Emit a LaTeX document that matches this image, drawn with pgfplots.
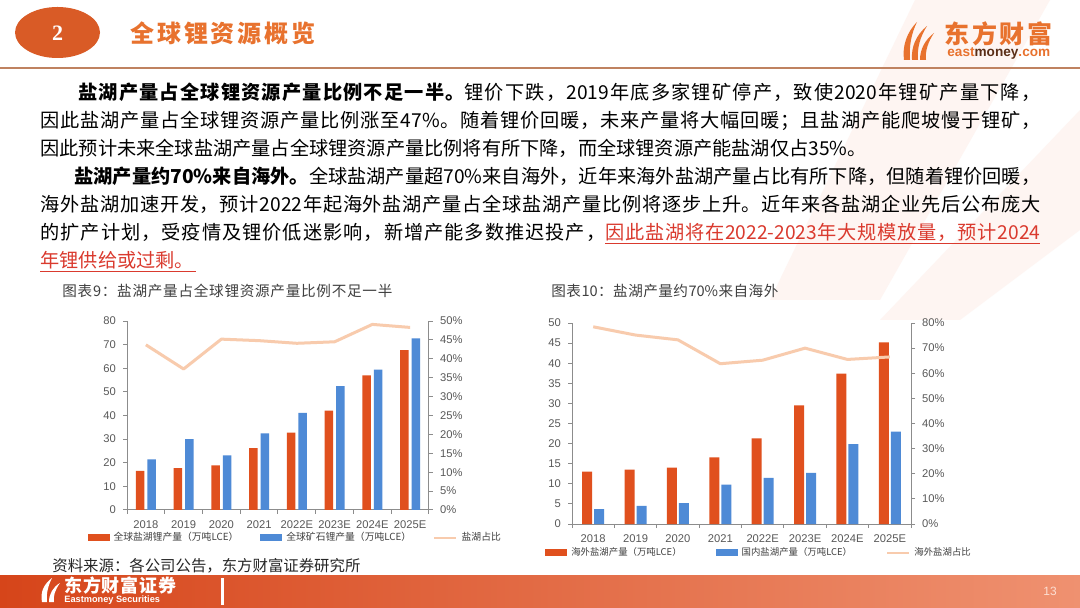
\documentclass[border=0pt]{standalone}
\usepackage{pgfplots}
\pgfplotsset{compat=1.18}
\usepackage{fontspec}
\setmainfont{Noto Sans CJK SC}
\newfontfamily\arial{Liberation Sans}
\newfontfamily\tnr{Liberation Serif}

\definecolor{barred}{HTML}{E0501E}
\definecolor{barblue}{HTML}{4E8AD6}
\definecolor{peach}{HTML}{F8CBAD}
\definecolor{emorange}{HTML}{E8722E}
\definecolor{emdark}{HTML}{D95B26}
\definecolor{rulec}{HTML}{BF8260}
\definecolor{redtxt}{HTML}{DA3A2E}
\definecolor{axgray}{HTML}{8C8C8C}
\definecolor{tickgray}{HTML}{595959}
\definecolor{legtext}{HTML}{404040}
\definecolor{wmark}{HTML}{FEF5F2}
\definecolor{emmoney}{HTML}{5A2E16}

% stretchable glue between CJK characters, so that single lines can be justified
\newXeTeXintercharclass\cjkc
\makeatletter
\count@="3000
\loop\ifnum\count@<"A000 \XeTeXcharclass\count@=\cjkc \advance\count@\@ne\repeat
\count@="FF00
\loop\ifnum\count@<"FFF0 \XeTeXcharclass\count@=\cjkc \advance\count@\@ne\repeat
\makeatother
\XeTeXinterchartoks\cjkc\cjkc={\hskip0pt plus 1pt minus 0.4pt\relax}
\XeTeXinterchartoks 0 \cjkc={\hskip0pt plus 1pt minus 0.4pt\relax}
\XeTeXinterchartoks\cjkc 0 ={\hskip0pt plus 1pt minus 0.4pt\relax}
\newcommand\jbox[2]{\hbox to #1{\XeTeXinterchartokenstate=1\relax#2}}

\begin{document}
\begin{tikzpicture}[x=0.5pt,y=-0.5pt]
\useasboundingbox (0,0) rectangle (1080,608);
\fill[white] (0,0) rectangle (1080,608);

% faint watermark band
\fill[wmark] (915,0) -- (1050,0) -- (880,300) -- (770,300) -- cycle;
\fill[wmark] (1080,110) -- (1080,230) -- (960,320) -- (880,320) -- cycle;

% header
\fill[emdark] (57.5,32.5) ellipse [x radius=21.25pt, y radius=12.75pt];
\node[white,font=\tnr\bfseries\fontsize{11}{11}\selectfont] at (57.5,33) {2};
\node[anchor=west,inner sep=0pt,text=emorange,font=\bfseries\fontsize{12}{12}\selectfont] at (130,33) {\jbox{92.5pt}{全球锂资源概览}};
\draw[rulec,line width=0.8pt] (0,68) -- (1080,68);

% logo
\fill[emorange] (904,60) .. controls (902,46) and (907,32) .. (917,22) .. controls (911,34) and (909,47) .. (910,60) -- cycle;
\fill[emorange] (912,60) .. controls (911,47) and (916,35) .. (927,26) .. controls (920,37) and (917,48) .. (918,60) -- cycle;
\fill[emorange] (920,60) .. controls (920,49) and (925,40) .. (934,33) .. controls (928,42) and (925,51) .. (926,60) -- cycle;
\node[anchor=west,inner sep=0pt,text=emorange,font=\bfseries\fontsize{12.5}{12.5}\selectfont] at (944,34) {\jbox{54pt}{东方财富}};
\node[anchor=west,inner sep=0pt,font=\arial\bfseries\fontsize{6.8}{7}\selectfont] at (947,53) {\textcolor{emorange}{east}\textcolor{emmoney}{money}\textcolor{emorange}{.com}};

% body text
\begin{scope}[every node/.style={anchor=base west,inner sep=0pt,font=\fontsize{9.6}{11}\selectfont}]
\node at (78,99.5) {\jbox{481pt}{{\bfseries 盐湖产量占全球锂资源产量比例不足一半。}锂价下跌，2019年底多家锂矿停产，致使2020年锂矿产量下降，}};
\node at (40,127.5) {\jbox{500pt}{因此盐湖产量占全球锂资源产量比例涨至47\%。随着锂价回暖，未来产量将大幅回暖；且盐湖产能爬坡慢于锂矿，}};
\node at (40,155.5) {因此预计未来全球盐湖产量占全球锂资源产量比例将有所下降，而全球锂资源产能盐湖仅占35\%。};
\node at (74,183.5) {\jbox{483pt}{{\bfseries 盐湖产量约70\%来自海外。}全球盐湖产量超70\%来自海外，近年来海外盐湖产量占比有所下降，但随着锂价回暖，}};
\node at (40,211.5) {\jbox{500pt}{海外盐湖加速开发，预计2022年起海外盐湖产量占全球盐湖产量比例将逐步上升。近年来各盐湖企业先后公布庞大}};
\node at (40,239.5) {\jbox{282.5pt}{的扩产计划，受疫情及锂价低迷影响，新增产能多数推迟投产，}};
\node[text=redtxt] at (605,239.5) {\jbox{217.5pt}{因此盐湖将在2022-2023年大规模放量，预计2024}};
\node[text=redtxt] at (40,267.5) {年锂供给或过剩。};
\end{scope}
\draw[redtxt,line width=0.6pt] (605,243.5) -- (1040,243.5);
\draw[redtxt,line width=0.6pt] (40,271.5) -- (196,271.5);

% chart titles and source
\node[anchor=west,inner sep=0pt,text=legtext,font=\fontsize{7.3}{8}\selectfont] at (62,291) {\jbox{165pt}{图表9：盐湖产量占全球锂资源产量比例不足一半}};
\node[anchor=west,inner sep=0pt,text=legtext,font=\fontsize{7.3}{8}\selectfont] at (551,291) {\jbox{113.5pt}{图表10：盐湖产量约70\%来自海外}};
\node[anchor=west,inner sep=0pt,text=black!85,font=\fontsize{7.7}{8}\selectfont] at (52,566) {资料来源：各公司公告，东方财富证券研究所};

% footer band
\shade[left color={rgb,255:red,214;green,69;blue,26}, right color={rgb,255:red,239;green,145;blue,112}] (0,575) rectangle (1080,608);
\fill[white] (221,578) rectangle (223.5,605);
\fill[white] (42,602) .. controls (40,592) and (44,584) .. (52,578) .. controls (48,586) and (46,594) .. (47,602) -- cycle;
\fill[white] (49,602) .. controls (49,594) and (53,587) .. (60,583) .. controls (55,590) and (53,596) .. (54,602) -- cycle;
\node[anchor=west,inner sep=0pt,text=white,font=\bfseries\fontsize{9}{9}\selectfont] at (64,586) {\jbox{56pt}{东方财富证券}};
\node[anchor=west,inner sep=0pt,text=white,font=\arial\bfseries\fontsize{4.6}{5}\selectfont] at (64,600) {Eastmoney Securities};
\node[text={rgb,255:red,252;green,222;blue,210},font=\arial\fontsize{6}{6}\selectfont] at (1050,591) {13};

% ---------- chart 9 ----------
\begin{axis}[
  at={(63.5pt,-255pt)}, anchor=south west,
  scale only axis, width=151pt, height=94.5pt,
  xmin=-0.5, xmax=7.5, ymin=0, ymax=80,
  axis x line*=bottom, axis y line*=left,
  axis line style={draw=axgray,line width=0.5pt},
  ytick={0,10,...,80}, xtick={0,...,7},
  xticklabels={2018,2019,2020,2021,2022E,2023E,2024E,2025E},
  minor xtick={-0.5,0.5,...,7.5},
  tick align=outside, major tick length=2pt, minor tick length=2pt,
  tick style={draw=axgray,line width=0.5pt},
  major x tick style={draw=none},
  ticklabel style={font=\arial\fontsize{5.6}{6}\selectfont,text=tickgray},
  /pgf/number format/assume math mode=true,
  ybar=1.5pt, bar width=4.25pt,
  legend style={at={(-0.132,-0.148)}, anchor=west, draw=none, fill=none, inner sep=0pt,
    font=\fontsize{4.9}{5}\selectfont, text=legtext,
    /tikz/every even column/.append style={column sep=9pt}},
  legend columns=3,
  legend image code/.code={\fill[#1] (0pt,-1.75pt) rectangle (11pt,1.75pt);},
]
\addplot[fill=barred,draw=none] coordinates {(0,16.6) (1,17.7) (2,18.9) (3,26.2) (4,32.7) (5,42.1) (6,57.0) (7,67.7)};
\addlegendentry{全球盐湖锂产量（万吨LCE）}
\addplot[fill=barblue,draw=none] coordinates {(0,21.4) (1,30.0) (2,23.1) (3,32.4) (4,41.1) (5,52.4) (6,59.4) (7,72.7)};
\addlegendentry{全球矿石锂产量（万吨LCE）}
\addlegendimage{legend image code/.code={\draw[peach,line width=1.2pt] (0pt,0pt) -- (11pt,0pt);}}
\addlegendentry{盐湖占比}
\end{axis}
\begin{axis}[
  at={(63.5pt,-255pt)}, anchor=south west,
  scale only axis, width=151pt, height=94.5pt,
  xmin=-0.5, xmax=7.5, ymin=0, ymax=50,
  axis x line=none, axis y line*=right,
  axis line style={draw=axgray,line width=0.5pt},
  ytick={0,5,...,50}, yticklabel={\pgfmathprintnumber{\tick}\%},
  tick align=outside, major tick length=2pt,
  tick style={draw=axgray,line width=0.5pt},
  ticklabel style={font=\arial\fontsize{5.6}{6}\selectfont,text=tickgray},
  /pgf/number format/assume math mode=true,
]
\addplot[peach,line width=1.5pt,line join=round,mark=none] coordinates {(0,43.7) (1,37.3) (2,45.2) (3,44.8) (4,44.1) (5,44.5) (6,49.1) (7,48.3)};
\end{axis}

% ---------- chart 10 ----------
\begin{axis}[
  at={(286pt,-262pt)}, anchor=south west,
  scale only axis, width=169.5pt, height=100.5pt,
  xmin=-0.5, xmax=7.5, ymin=0, ymax=50,
  axis x line*=bottom, axis y line*=left,
  axis line style={draw=axgray,line width=0.5pt},
  ytick={0,5,...,50}, xtick={0,...,7},
  xticklabels={2018,2019,2020,2021,2022E,2023E,2024E,2025E},
  minor xtick={-0.5,0.5,...,7.5},
  tick align=outside, major tick length=2pt, minor tick length=2pt,
  tick style={draw=axgray,line width=0.5pt},
  major x tick style={draw=none},
  ticklabel style={font=\arial\fontsize{5.6}{6}\selectfont,text=tickgray},
  /pgf/number format/assume math mode=true,
  ybar=1pt, bar width=5pt,
  legend style={at={(-0.08,-0.144)}, anchor=west, draw=none, fill=none, inner sep=0pt,
    font=\fontsize{4.7}{5}\selectfont, text=legtext,
    /tikz/every even column/.append style={column sep=15pt}},
  legend columns=3,
  legend image code/.code={\fill[#1] (0pt,-1.75pt) rectangle (11pt,1.75pt);},
]
\addplot[fill=barred,draw=none] coordinates {(0,13.0) (1,13.5) (2,14.0) (3,16.6) (4,21.3) (5,29.5) (6,37.4) (7,45.2)};
\addlegendentry{海外盐湖产量（万吨LCE）}
\addplot[fill=barblue,draw=none] coordinates {(0,3.7) (1,4.5) (2,5.2) (3,9.8) (4,11.5) (5,12.7) (6,19.9) (7,23.0)};
\addlegendentry{国内盐湖产量（万吨LCE）}
\addlegendimage{legend image code/.code={\draw[peach,line width=1.2pt] (0pt,0pt) -- (11pt,0pt);}}
\addlegendentry{海外盐湖占比}
\end{axis}
\begin{axis}[
  at={(286pt,-262pt)}, anchor=south west,
  scale only axis, width=169.5pt, height=100.5pt,
  xmin=-0.5, xmax=7.5, ymin=0, ymax=80,
  axis x line=none, axis y line*=right,
  axis line style={draw=axgray,line width=0.5pt},
  ytick={0,10,...,80}, yticklabel={\pgfmathprintnumber{\tick}\%},
  tick align=outside, major tick length=2pt,
  tick style={draw=axgray,line width=0.5pt},
  ticklabel style={font=\arial\fontsize{5.6}{6}\selectfont,text=tickgray},
  /pgf/number format/assume math mode=true,
]
\addplot[peach,line width=1.5pt,line join=round,mark=none] coordinates {(0,78.5) (1,75.2) (2,73.3) (3,63.8) (4,65.2) (5,70.0) (6,65.5) (7,66.5)};
\end{axis}
\end{tikzpicture}
\end{document}
